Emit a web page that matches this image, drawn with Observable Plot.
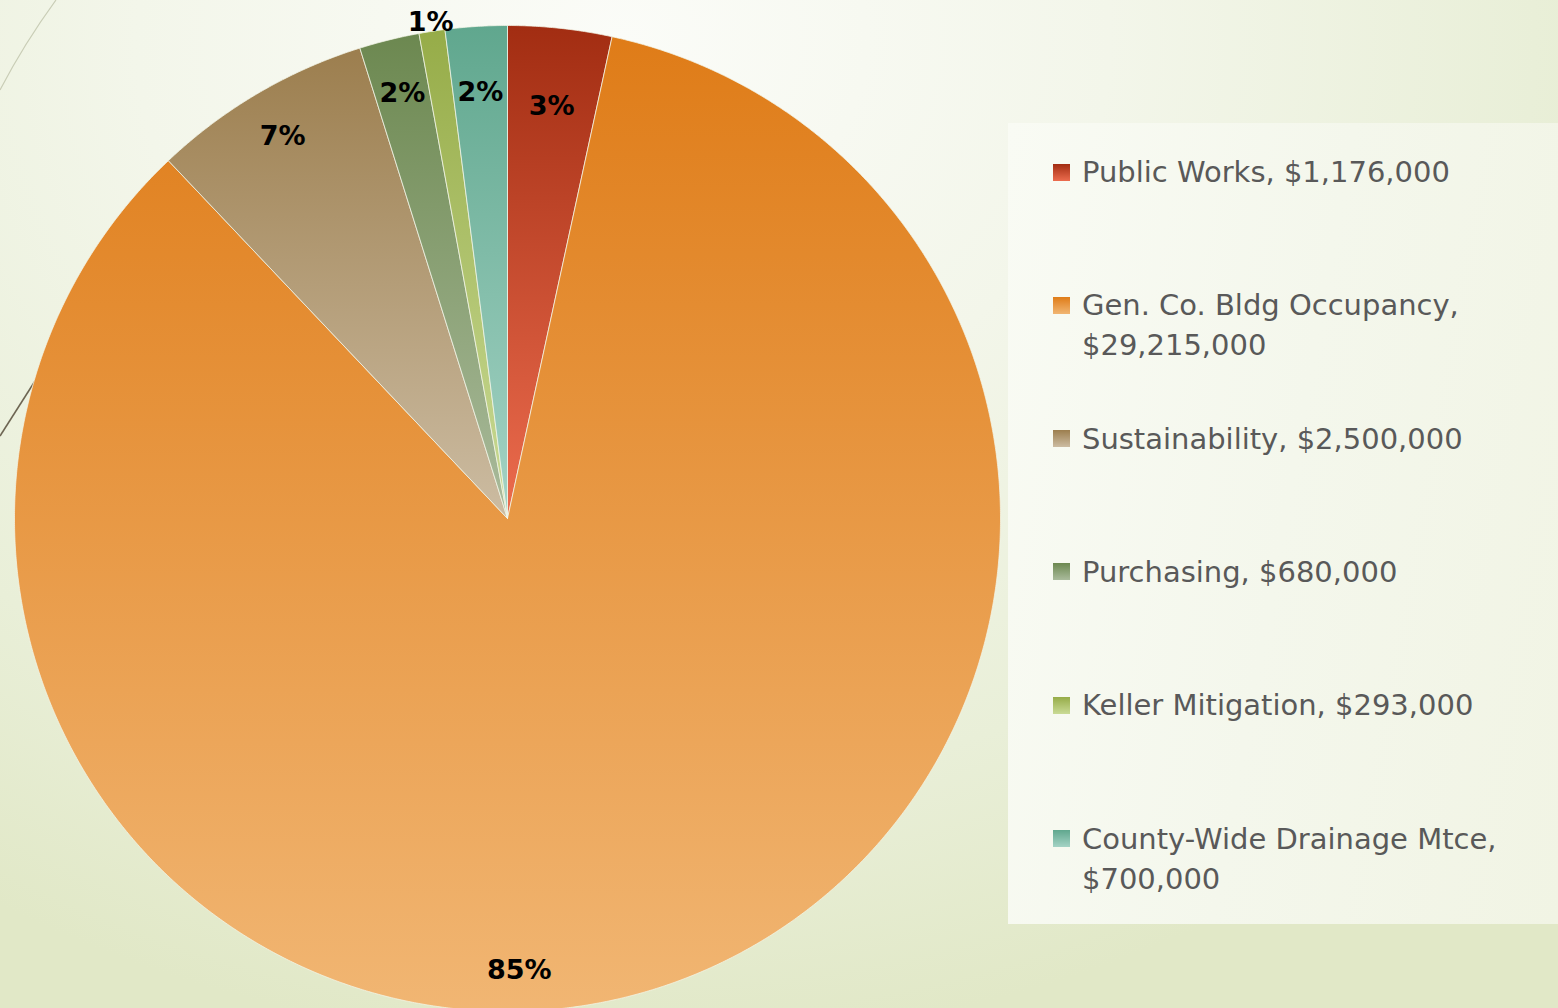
<!DOCTYPE html>
<html>
<head>
<meta charset="utf-8">
<script src="https://cdn.jsdelivr.net/npm/d3@7"></script>
<script src="https://cdn.jsdelivr.net/npm/@observablehq/plot@0.6"></script>
<style>
  html, body { margin: 0; padding: 0; width: 1558px; height: 1008px; overflow: hidden; }
  body {
    position: relative;
    font-family: "DejaVu Sans", sans-serif;
    background-image:
      url("data:image/svg+xml,%3Csvg xmlns='http://www.w3.org/2000/svg' width='1558' height='1008'%3E%3Cpath d='M0,90 Q24,44 56,0' fill='none' stroke='%23c9cdb6' stroke-width='1.2'/%3E%3Cpath d='M0,436 L70,326' fill='none' stroke='%236d6552' stroke-width='1.6'/%3E%3C/svg%3E"),
      radial-gradient(ellipse 78% 100% at 40% 4%, #fbfcf8 0%, #f3f6ea 40%, #e9efd8 75%, #e1e8c7 100%);
    background-repeat: no-repeat;
  }
  #chart { position: absolute; left: 0; top: 0; }
  #legend {
    position: absolute; left: 1008px; top: 123px; width: 550px; height: 801px;
    background: linear-gradient(100deg, #f9fbf4 0%, #f4f7ec 50%, #f1f4e4 100%);
  }
  .item { position: absolute; left: 74px; color: #595959; line-height: 40px; white-space: nowrap; }
  .sw { position: absolute; left: 45px; width: 17px; height: 17px; }
</style>
</head>
<body>
<div id="chart"></div>
<div id="legend"></div>
<script>
// ---- data ----
const names = ["Public Works", "Gen. Co. Bldg Occupancy", "Sustainability", "Purchasing", "Keller Mitigation", "County-Wide Drainage Mtce"];
const values = [1176000, 29215000, 2500000, 680000, 293000, 700000];
const topColors = ["#a22d12", "#df7c18", "#9c7e4e", "#6c8850", "#96ac48", "#60a78e"];
const bottomColors = ["#ec6c4e", "#f1b673", "#ccbca2", "#aabb9c", "#cadb96", "#a4d3c5"];
const legendBreak = [false, true, false, false, false, true];
// label placement (fraction of radius) and optional angle override (degrees clockwise from top)
const labelRadius = [0.84, 0.917, 0.9, 0.888, 1.018, 0.866];
const labelAngle = [null, 178.5, null, null, null, null];

// ---- layout ----
const W = 1558, H = 1008;
const cx = 507, cy = 518, R = 493;

const total = d3.sum(values);
let acc = 0;
const slices = values.map((v, i) => {
  const a0 = acc / total * 2 * Math.PI; acc += v;
  const a1 = acc / total * 2 * Math.PI;
  return {name: names[i], value: v, a0, a1, i};
});

const pts = [];
for (const s of slices) {
  pts.push({name: s.name, x: 0, y: 0});
  const n = Math.max(2, Math.ceil((s.a1 - s.a0) / (Math.PI / 720)));
  for (let k = 0; k <= n; k++) {
    const a = s.a0 + (s.a1 - s.a0) * k / n;
    pts.push({name: s.name, x: Math.sin(a), y: Math.cos(a)});
  }
  pts.push({name: s.name, x: 0, y: 0});
}

const labels = slices.map(s => {
  const a = labelAngle[s.i] != null ? labelAngle[s.i] * Math.PI / 180 : (s.a0 + s.a1) / 2;
  const f = labelRadius[s.i];
  return {x: f * Math.sin(a), y: f * Math.cos(a), text: Math.round(s.value / total * 100) + "%"};
});

function defsMark() {
  const ns = "http://www.w3.org/2000/svg";
  const defs = document.createElementNS(ns, "defs");
  names.forEach((_, i) => {
    const g = document.createElementNS(ns, "linearGradient");
    g.setAttribute("id", "grad" + i);
    g.setAttribute("x1", "0"); g.setAttribute("y1", "0");
    g.setAttribute("x2", "0"); g.setAttribute("y2", "1");
    [[0, topColors[i]], [1, bottomColors[i]]].forEach(([o, c]) => {
      const st = document.createElementNS(ns, "stop");
      st.setAttribute("offset", o); st.setAttribute("stop-color", c);
      g.appendChild(st);
    });
    defs.appendChild(g);
  });
  return defs;
}

const chart = Plot.plot({
  width: W, height: H, margin: 0,
  style: {background: "transparent", fontFamily: "DejaVu Sans, sans-serif"},
  x: {domain: [-1, 1], range: [cx - R, cx + R], axis: null},
  y: {domain: [-1, 1], range: [cy + R, cy - R], axis: null},
  color: {type: "ordinal", domain: names, range: names.map((_, i) => `url(#grad${i})`)},
  marks: [
    defsMark,
    Plot.line(pts, {x: "x", y: "y", z: "name", fill: "name", stroke: "#f3f5e8", strokeWidth: 1, strokeOpacity: 0.75, curve: "linear"}),
    Plot.text(labels, {x: "x", y: "y", text: "text", fill: "#000", fontSize: 27, fontWeight: "bold"})
  ]
});
document.getElementById("chart").appendChild(chart);

// ---- legend ----
const fmt = d3.format("$,");
const legend = document.getElementById("legend");
const rowTop = 49, rowStep = 133.3;
// fit font size to reference text width
const cnv = document.createElement("canvas").getContext("2d");
cnv.font = "30px 'DejaVu Sans'";
const measured = cnv.measureText(`${names[0]}, ${fmt(values[0])}`).width;
const fs = Math.max(22, Math.min(32, 30 * 368 / measured));
names.forEach((n, i) => {
  const yc = rowTop + i * rowStep;
  const sw = document.createElement("div");
  sw.className = "sw";
  sw.style.top = (yc - 8.5) + "px";
  sw.style.background = `linear-gradient(180deg, ${topColors[i]}, ${bottomColors[i]})`;
  legend.appendChild(sw);
  const t = document.createElement("div");
  t.className = "item";
  t.style.top = (yc - 20) + "px";
  t.style.fontSize = fs + "px";
  const label = `${n}, ${fmt(values[i])}`;
  if (legendBreak[i]) {
    t.appendChild(document.createTextNode(n + ","));
    t.appendChild(document.createElement("br"));
    t.appendChild(document.createTextNode(fmt(values[i])));
  } else {
    t.textContent = label;
  }
  legend.appendChild(t);
});
</script>
</body>
</html>
